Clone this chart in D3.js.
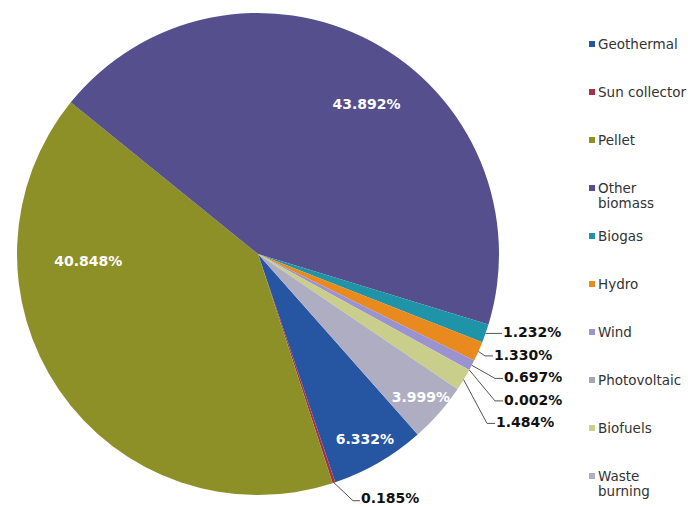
<!DOCTYPE html>
<html>
<head>
<meta charset="utf-8">
<script src="https://cdn.jsdelivr.net/npm/d3@7"></script>
<style>
  html, body { margin: 0; padding: 0; background: #ffffff; }
  svg { display: block; }
</style>
</head>
<body>
<svg id="chart" width="695" height="507"></svg>
<script>
// ---- data ----
const categories = ["Geothermal", "Sun collector", "Pellet", "Other biomass", "Biogas",
                    "Hydro", "Wind", "Photovoltaic", "Biofuels", "Waste burning"];
const shares = [6.332, 0.185, 40.848, 43.892, 1.232, 1.330, 0.697, 0.002, 1.484, 3.999];
const shareLabels = ["6.332%", "0.185%", "40.848%", "43.892%", "1.232%",
                     "1.330%", "0.697%", "0.002%", "1.484%", "3.999%"];
const colors = ["#2656a2", "#a5304c", "#8d9027", "#554f8e", "#1f93a8",
                "#e88a1e", "#9b93d0", "#a7a6b6", "#c9cf8b", "#aeadc2"];

// ---- layout ----
const W = 695, H = 507;
const cx = 258, cy = 254, R = 241;
const startDeg = 138.5;
const insideLabels = new Set(["Geothermal", "Pellet", "Other biomass", "Waste burning"]);
// label placement (angle in degrees, radius fraction) for labels moved in the original
const insidePlacement = {
  "Geothermal": {angle: null, rf: 0.885},
  "Waste burning": {angle: null, rf: 0.90},
  "Other biomass": {angle: 35.8, rf: 0.77},
  "Pellet": {angle: 267.6, rf: 0.705}
};

const svg = d3.select("#chart");
const g = svg.append("g").attr("transform", `translate(${cx},${cy})`);

const data = categories.map((c, i) => ({name: c, value: shares[i], label: shareLabels[i]}));
const color = d3.scaleOrdinal().domain(categories).range(colors);

const a0 = startDeg * Math.PI / 180;
const pie = d3.pie().value(d => d.value).sort(null)
  .startAngle(a0).endAngle(a0 + 2 * Math.PI);
const arcs = pie(data);
const arc = d3.arc().innerRadius(0).outerRadius(R);

g.selectAll("path.slice").data(arcs).join("path")
  .attr("class", "slice")
  .attr("d", arc)
  .attr("fill", d => color(d.data.name));

function polar(angle, r) { return [Math.sin(angle) * r, -Math.cos(angle) * r]; }

const fontFam = "'DejaVu Sans', Verdana, sans-serif";
const labelSize = 14;

// inside labels
arcs.filter(d => insideLabels.has(d.data.name)).forEach(d => {
  const p = insidePlacement[d.data.name];
  const ang = p.angle === null ? (d.startAngle + d.endAngle) / 2 : p.angle * Math.PI / 180;
  const [x, y] = polar(ang, R * p.rf);
  g.append("text")
    .attr("x", x).attr("y", y)
    .attr("text-anchor", "middle").attr("dominant-baseline", "central")
    .attr("font-family", fontFam).attr("font-weight", "bold").attr("font-size", labelSize)
    .attr("fill", "#ffffff")
    .text(d.data.label);
});

// outside labels on the right side
const rightNames = ["Biogas", "Hydro", "Wind", "Photovoltaic", "Biofuels"];
const labelX = [245, 236, 246, 246, 238];
let prevY = -Infinity;
arcs.filter(d => rightNames.includes(d.data.name)).forEach((d, i) => {
  const mid = (d.startAngle + d.endAngle) / 2;
  const [px, py] = polar(mid, R);
  let ly = Math.max(py - 1, prevY + 22.5);
  prevY = ly;
  const lx = labelX[i];
  g.append("path")
    .attr("d", `M${px},${py} L${lx - 9},${ly + 1} L${lx - 1},${ly + 1}`)
    .attr("fill", "none").attr("stroke", "#555").attr("stroke-width", 1);
  g.append("text")
    .attr("x", lx).attr("y", ly + 5)
    .attr("font-family", fontFam).attr("font-weight", "bold").attr("font-size", labelSize)
    .attr("fill", "#111")
    .text(d.data.label);
});

// sun collector label at the bottom
arcs.filter(d => d.data.name === "Sun collector").forEach(d => {
  const mid = (d.startAngle + d.endAngle) / 2;
  const [px, py] = polar(mid, R);
  const lx = px + 27, ly = py + 18;
  g.append("path")
    .attr("d", `M${px},${py} L${lx - 8},${ly} L${lx - 1},${ly}`)
    .attr("fill", "none").attr("stroke", "#555").attr("stroke-width", 1);
  g.append("text")
    .attr("x", lx).attr("y", ly + 2)
    .attr("font-family", fontFam).attr("font-weight", "bold").attr("font-size", labelSize)
    .attr("fill", "#111")
    .text(d.data.label);
});

// legend
const legendX = 589, legendY0 = 44, legendStep = 48;
const legendLines = {"Other biomass": ["Other", "biomass"], "Waste burning": ["Waste", "burning"]};
const lg = svg.append("g");
categories.forEach((c, i) => {
  const y = legendY0 + i * legendStep;
  lg.append("rect").attr("x", legendX).attr("y", y - 3).attr("width", 6).attr("height", 6)
    .attr("fill", color(c));
  const lines = legendLines[c] || [c];
  lines.forEach((t, j) => {
    lg.append("text")
      .attr("x", legendX + 9).attr("y", y + 5 + j * 15)
      .attr("font-family", fontFam).attr("font-size", 13.5)
      .attr("fill", "#333")
      .text(t);
  });
});
</script>
</body>
</html>
